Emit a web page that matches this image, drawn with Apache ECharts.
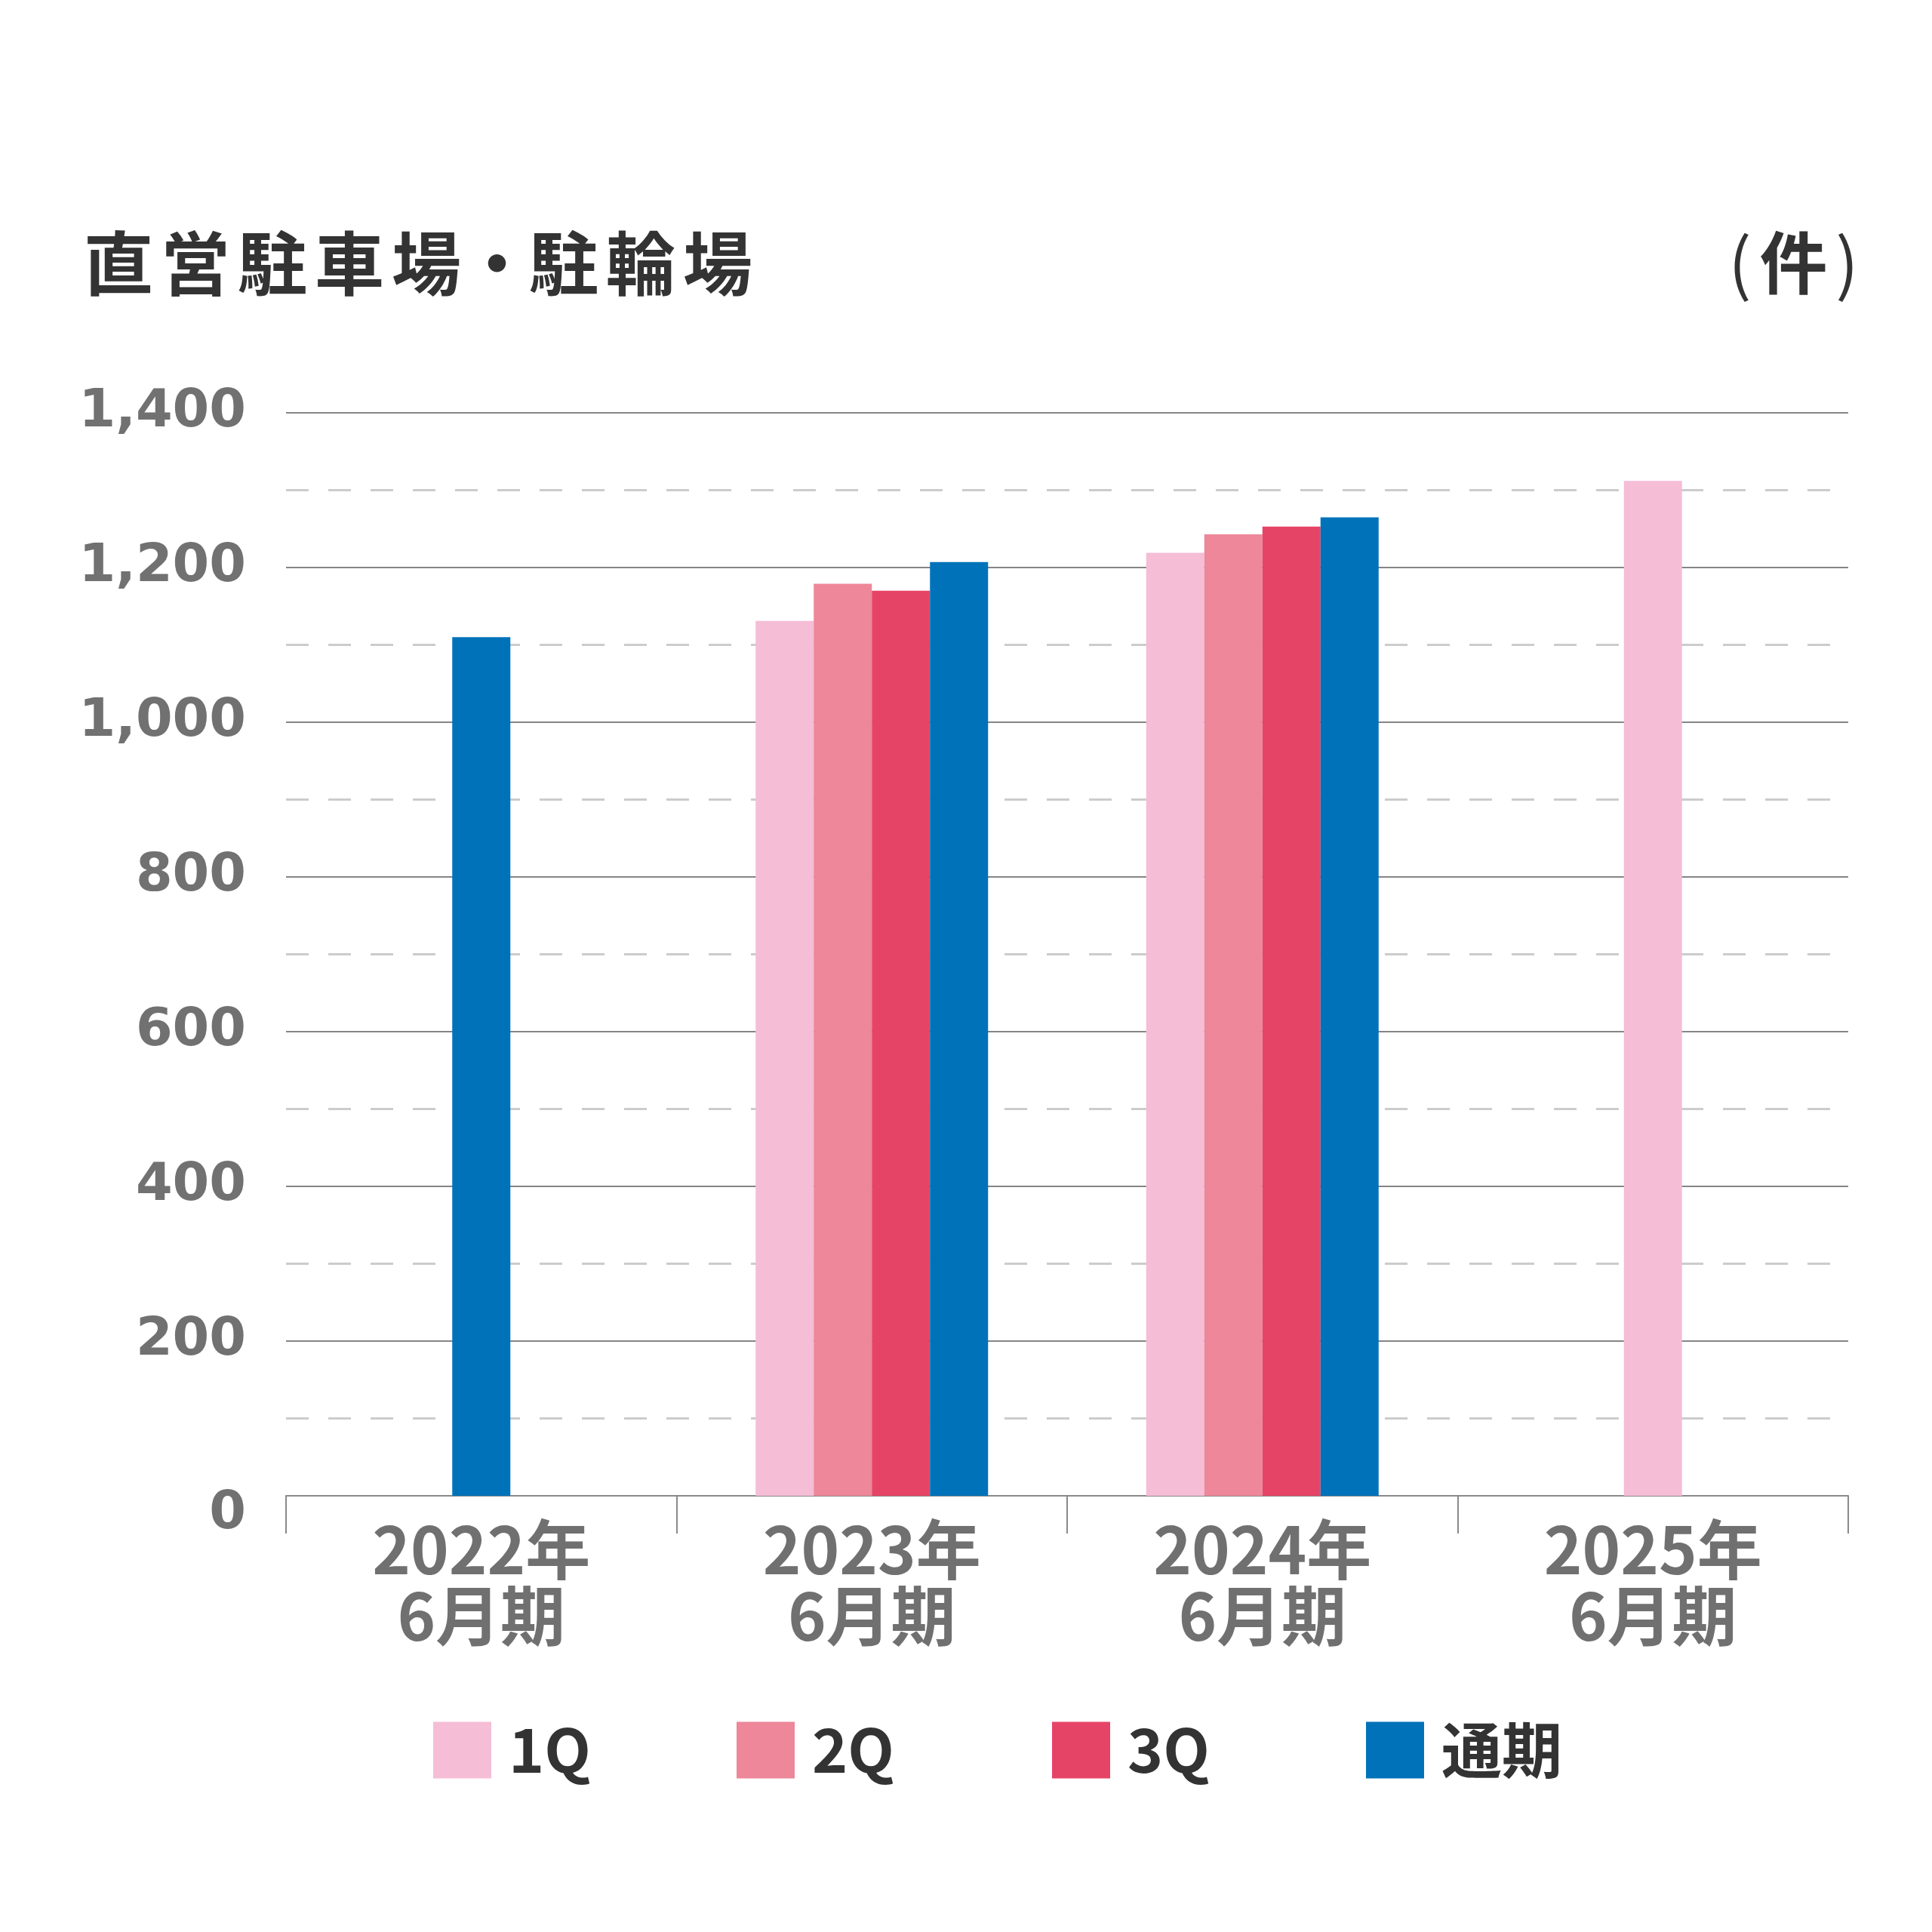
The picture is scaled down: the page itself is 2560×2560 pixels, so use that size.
<!DOCTYPE html>
<html>
<head>
<meta charset="utf-8">
<script src="https://cdn.jsdelivr.net/npm/echarts@6/dist/echarts.min.js"></script>
<style>
html,body{margin:0;padding:0;background:#fff;}
#chart{width:2560px;height:2560px;}
</style>
</head>
<body>
<div id="chart"></div>
<script>
const categories = ['2022年\n6月期', '2023年\n6月期', '2024年\n6月期', '2025年\n6月期'];
const seriesNames = ['1Q', '2Q', '3Q', '通期'];
const q1 = [null, 1131, 1219, 1312];
const q2 = [null, 1179, 1243, null];
const q3 = [null, 1170, 1253, null];
const fy = [1110, 1207, 1265, null];
const yTicks = [0, 200, 400, 600, 800, 1000, 1200, 1400];
const titleText = '直営駐車場・駐輪場';
const unitText = '件';

const colors = ['#F5BDD6', '#ED8799', '#E64467', '#0072B9'];
const values = [q1, q2, q3, fy];

// categories with a single bar are drawn centred on a second (hidden) category axis
const presentCount = categories.map((c, i) => values.filter(v => v[i] != null).length);
const series = [];
values.forEach((arr, s) => {
  series.push({
    name: seriesNames[s], type: 'bar', xAxisIndex: 0, barWidth: 77, barGap: 0,
    itemStyle: { color: colors[s] },
    data: arr.map((v, i) => presentCount[i] > 1 ? v : null)
  });
});
values.forEach((arr, s) => {
  series.push({
    name: seriesNames[s], type: 'bar', xAxisIndex: 1, barWidth: 77, barGap: '-100%',
    itemStyle: { color: colors[s] },
    data: arr.map((v, i) => presentCount[i] === 1 ? v : null)
  });
});

const titleRich = Array.from(titleText).map(ch => ch === '・' ? '{d|' + ch + '}' : '{c|' + ch + '}').join('');
const legendLefts = [574, 976, 1394, 1810];
const legendFont = { fontFamily: 'Noto Sans CJK JP', fontWeight: 'bold', fontSize: 80, color: '#333333' };
const legends = seriesNames.map((n, i) => ({
  data: [n], left: legendLefts[i], top: 2279, padding: 0,
  itemWidth: 77, itemHeight: 75, icon: 'rect',
  textStyle: Object.assign({ padding: [0, 0, 0, 18] }, legendFont)
}));

const chart = echarts.init(document.getElementById('chart'), null, { renderer: 'canvas' });
chart.setOption({
  backgroundColor: '#ffffff',
  animation: false,
  title: [
    { text: titleRich, left: 106, top: 298,
      textStyle: { fontFamily: 'Noto Sans CJK JP', fontWeight: 'bold', fontSize: 92, color: '#333333',
        rich: {
          c: { fontFamily: 'Noto Sans CJK JP', fontWeight: 'bold', fontSize: 92, color: '#333333', width: 102, align: 'left' },
          d: { fontFamily: 'Noto Sans CJK JP', fontWeight: 'bold', fontSize: 92, color: '#333333', width: 75, align: 'center' }
        } } },
    { text: '{p|(}{u|' + unitText + '}{p|)}', right: 100, top: 298,
      textStyle: { fontFamily: 'Noto Sans CJK JP', fontWeight: 'bold', fontSize: 90, color: '#333333',
        rich: {
          p: { fontFamily: 'Noto Sans CJK JP', fontWeight: 'normal', fontSize: 90, color: '#333333', width: 46, align: 'center' },
          u: { fontFamily: 'Noto Sans CJK JP', fontWeight: 'bold', fontSize: 90, color: '#333333', width: 96, align: 'center' }
        } } }
  ],
  legend: legends,
  grid: { left: 379, right: 111, top: 547, bottom: 2560 - 1982, containLabel: false },
  xAxis: [
    {
      type: 'category', data: categories, boundaryGap: true,
      axisLine: { show: true, lineStyle: { color: '#8a8a8a', width: 2 } },
      axisTick: { show: true, length: 50, lineStyle: { color: '#8a8a8a', width: 2 } },
      axisLabel: { margin: 27, lineHeight: 88, fontFamily: 'Noto Sans CJK JP', fontWeight: 'bold', fontSize: 86, color: '#707070' }
    },
    { type: 'category', data: categories, show: false, boundaryGap: true }
  ],
  yAxis: {
    type: 'value', min: yTicks[0], max: yTicks[yTicks.length - 1], interval: 200,
    axisLine: { show: false }, axisTick: { show: false },
    axisLabel: { margin: 53, fontFamily: 'DejaVu Sans', fontWeight: 'bold', fontSize: 70, color: '#717171',
      formatter: v => v === 0 ? '{z|0}' : v.toLocaleString('en-US'),
      rich: { z: { fontFamily: 'DejaVu Sans', fontWeight: 'bold', fontSize: 70, color: '#717171', padding: [50, 0, 0, 0] } } },
    splitLine: { show: true, lineStyle: { color: '#858585', width: 2 } },
    minorTick: { show: false, splitNumber: 2 },
    minorSplitLine: { show: true, lineStyle: { color: '#cccccc', width: 3, type: [30, 26] } }
  },
  series: series
});
</script>
</body>
</html>
